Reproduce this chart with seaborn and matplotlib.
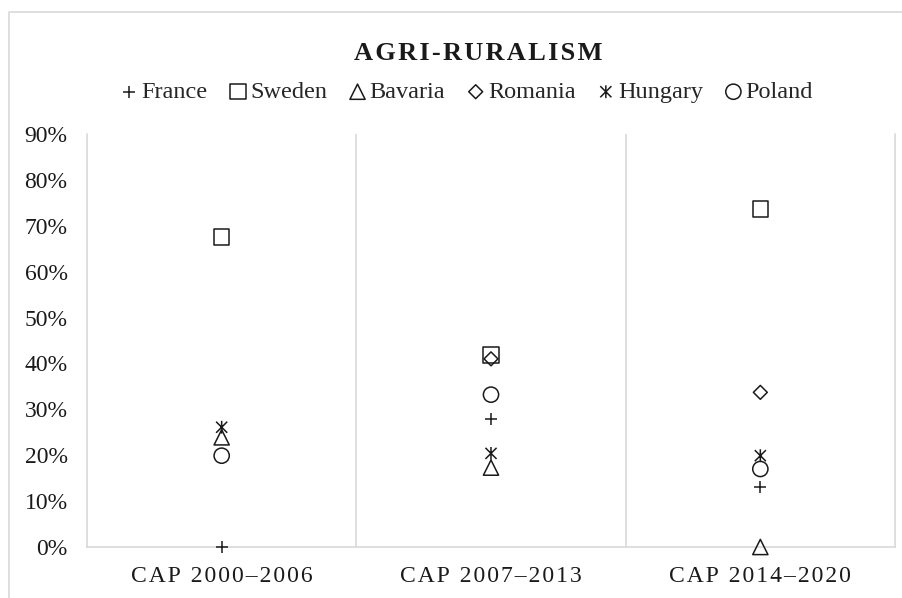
import numpy as np
import pandas as pd
import seaborn as sns
import matplotlib.pyplot as plt
from matplotlib.lines import Line2D
from matplotlib.path import Path
from matplotlib.ticker import PercentFormatter

# ---- data ----
periods = ["CAP 2000–2006", "CAP 2007–2013", "CAP 2014–2020"]
countries = ["France", "Sweden", "Bavaria", "Romania", "Hungary", "Poland"]
france = [0.000, 0.280, 0.131]
sweden = [0.675, 0.418, 0.736]
bavaria = [0.239, 0.173, 0.000]
romania = [np.nan, 0.410, 0.337]
hungary = [0.261, 0.204, 0.199]
poland = [0.199, 0.332, 0.170]

series = dict(zip(countries, [france, sweden, bavaria, romania, hungary, poland]))
df = pd.DataFrame([
    {"Period": p, "Country": c, "Share": v}
    for c, vals in series.items() for p, v in zip(periods, vals)
])

# ---- style ----
sns.set_theme(style="white")
plt.rcParams["font.family"] = ["Liberation Serif", "DejaVu Serif"]

INK = "#1a1a1a"
GRID = "#d9d9d9"

# Excel-like "x with a vertical bar" star
star = Path([(-1, -1), (1, 1), (-1, 1), (1, -1), (0, -1.15), (0, 1.15)],
            [Path.MOVETO, Path.LINETO] * 3)

# marker, size (pt^2), outline-only?
MARKERS = {
    "France": ("+", 75, False),
    "Sweden": ("s", 125, True),
    "Bavaria": ("^", 120, True),
    "Romania": ("D", 50, True),
    "Hungary": (star, 85, True),
    "Poland": ("o", 120, True),
}

def spaced(s):
    return "\u200a".join(s)

fig = plt.figure(figsize=(9.03, 5.98), dpi=100)
ax = fig.add_axes([87 / 903, 1 - 547 / 598, (895 - 87) / 903, (547 - 134) / 598])

for c in countries:
    m, s, filled = MARKERS[c]
    sub = df[df["Country"] == c]
    if filled:
        sns.scatterplot(data=sub, x="Period", y="Share", ax=ax, marker=m, s=s,
                        facecolor="none", edgecolor=INK, linewidth=1.1,
                        label=c, zorder=3, clip_on=False)
    else:
        sns.scatterplot(data=sub, x="Period", y="Share", ax=ax, marker=m, s=s,
                        color=INK, linewidth=1.1, label=c, zorder=3, clip_on=False)

ax.set_xlim(-0.5, 2.5)
ax.set_ylim(0, 0.9)
ax.set_yticks(np.arange(0, 0.91, 0.1))
ax.yaxis.set_major_formatter(PercentFormatter(1.0, decimals=0))
ax.set_xticks(range(len(periods)))
ax.set_xticklabels([spaced(p) for p in periods], fontsize=17)
ax.tick_params(axis="y", length=0, pad=14, labelsize=17, colors=INK)
ax.tick_params(axis="x", length=0, pad=14, colors=INK)
ax.set_xlabel("")
ax.set_ylabel("")

# separators between periods
for xv in [0.5, 1.5]:
    ax.axvline(xv, color=GRID, lw=1.2, zorder=1)
ax.spines["top"].set_visible(False)
for side in ["left", "right", "bottom"]:
    ax.spines[side].set_color(GRID)
    ax.spines[side].set_linewidth(1.2)

# legend across the top
handles, labels = ax.get_legend_handles_labels()
if ax.legend_:
    ax.legend_.remove()
fig.legend(handles, labels, loc="center", bbox_to_anchor=(0.515, 0.846),
           ncol=6, frameon=False, fontsize=17.5, handletextpad=0.0,
           handlelength=1.0, columnspacing=0.75, markerscale=1.0,
           borderaxespad=0)

fig.text(0.53, 1 - 54 / 598, spaced("AGRI-RURALISM"), ha="center", va="center",
         fontsize=19, fontweight="bold", color=INK)

# light outer frame of the chart area (only left and top edges are in view)
fx, fy = 9.5 / 903, 1 - 11.5 / 598
fig.add_artist(Line2D([fx, fx, 1.0], [0.0, fy, fy], transform=fig.transFigure,
                      color=GRID, lw=1.2))

fig.savefig("out.png", dpi=100)
